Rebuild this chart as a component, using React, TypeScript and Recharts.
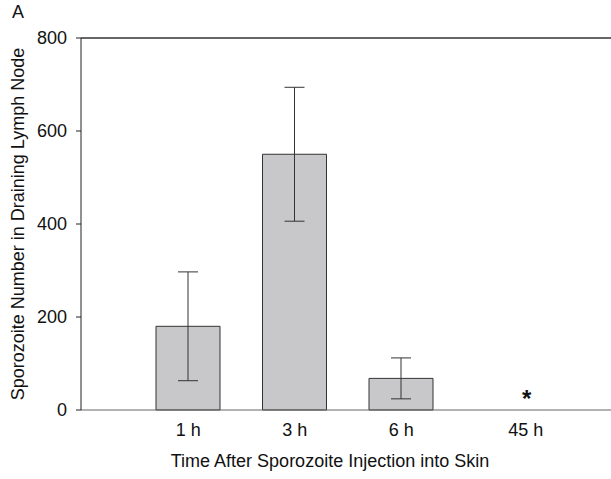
import {
  BarChart,
  Bar,
  XAxis,
  YAxis,
  ErrorBar,
  ReferenceLine,
  ReferenceDot,
  Label,
  Cell
} from "recharts";

const times = ["1 h", "3 h", "6 h", "45 h"];
const counts = [180, 550, 68, 0];
const sem = [117, 144, 44, null];
const marks = ["", "", "", "*"];
const yTicks = [0, 200, 400, 600, 800];

const data = times.map((t, i) => ({
  time: t,
  count: counts[i],
  err: sem[i]
}));

const font = "'Liberation Sans', Arial, sans-serif";

const XTick = (props: any) => {
  const { x, y, payload } = props;
  // the last label sits a little right of its tick in the original
  const shift = payload.value === "45 h" ? 18 : 0;
  return (
    <text x={x + shift} y={y} dy="0.71em" textAnchor="middle" fontSize={18} fill="#111" fontFamily={font}>
      {payload.value}
    </text>
  );
};

const XTitle = (props: any) => {
  const vb = props.viewBox;
  return (
    <text x={vb.x + vb.width / 2 - 16} y={467} textAnchor="middle" fontSize={18} fill="#111" fontFamily={font}>
      Time After Sporozoite Injection into Skin
    </text>
  );
};

const YTitle = (props: any) => {
  const vb = props.viewBox;
  const cy = vb.y + vb.height / 2;
  return (
    <text
      x={18}
      y={cy}
      transform={`rotate(-90, 18, ${cy})`}
      textAnchor="middle"
      dominantBaseline="central"
      fontSize={18}
      fill="#111"
      fontFamily={font}
    >
      Sporozoite Number in Draining Lymph Node
    </text>
  );
};

const Star = (props: any) => {
  const vb = props.viewBox;
  return (
    <text x={vb.x + 19} y={vb.y - 3} textAnchor="middle" fontSize={24} fontWeight="bold" fill="#111" fontFamily={font}>
      {props.value}
    </text>
  );
};

export default () => {
  return (
    <div style={{ position: "absolute", left: 0, top: 0, width: 611, height: 479, background: "#fff" }}>
      <div style={{ position: "absolute", left: 12, top: 2, fontSize: 18, fontFamily: font, color: "#111" }}>A</div>
      <BarChart
        width={611}
        height={479}
        data={data}
        margin={{ top: 38, right: 0, left: 0, bottom: 0 }}
      >
        <XAxis
          dataKey="time"
          height={69}
          padding={{ left: 54, right: 50 }}
          axisLine={{ stroke: "#666" }}
          tickLine={false}
          tickSize={6}
          tickMargin={7}
          tick={<XTick />}
        >
          <Label content={<XTitle />} />
        </XAxis>
        <YAxis
          width={81}
          domain={[0, 800]}
          ticks={yTicks}
          interval={0}
          axisLine={{ stroke: "#222" }}
          tickLine={{ stroke: "#222" }}
          tickSize={5}
          tickMargin={9}
          tick={{ fontSize: 18, fill: "#111", fontFamily: font }}
        >
          <Label content={<YTitle />} />
        </YAxis>
        <ReferenceLine y={800} stroke="#333" strokeWidth={1.5} />
        <Bar
          dataKey="count"
          barSize={64}
          fill="#c8c8ca"
          stroke="#333"
          strokeWidth={1}
          isAnimationActive={false}
        >
          {data.map((d, i) => (
            <Cell key={i} stroke={d.count > 0 ? "#333" : "none"} />
          ))}
          <ErrorBar dataKey="err" width={10} stroke="#333" strokeWidth={1} />
        </Bar>
        {marks.map((m, i) =>
          m ? (
            <ReferenceDot key={i} x={times[i]} y={0} r={0} stroke="none" fill="none">
              <Label value={m} content={<Star value={m} />} />
            </ReferenceDot>
          ) : null
        )}
      </BarChart>
    </div>
  );
};
